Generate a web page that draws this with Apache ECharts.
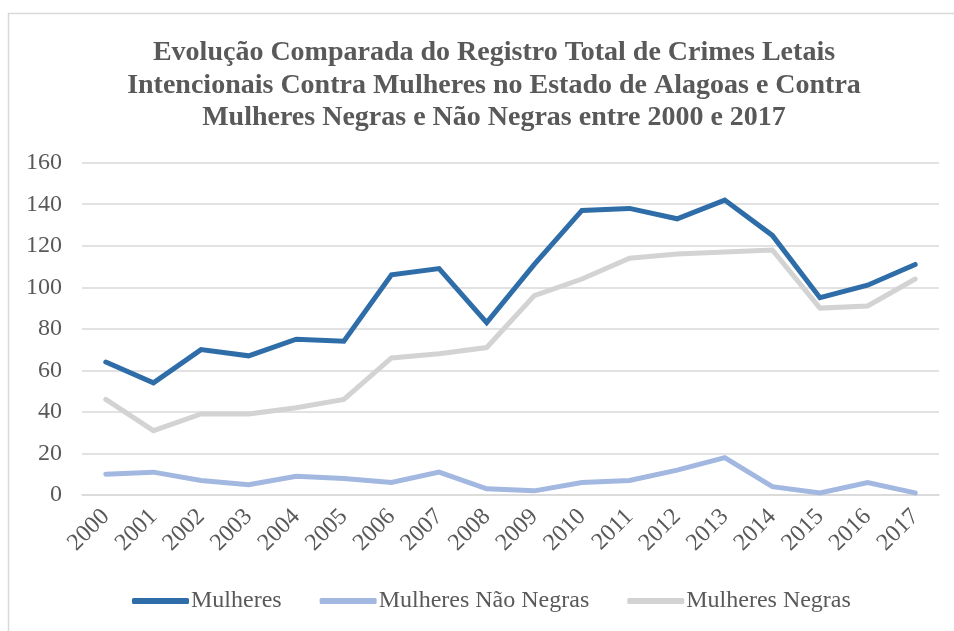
<!DOCTYPE html>
<html>
<head>
<meta charset="utf-8">
<script src="https://cdn.jsdelivr.net/npm/echarts@6/dist/echarts.min.js"></script>
<style>
  html, body { margin: 0; padding: 0; background: #fff; }
  #main { width: 954px; height: 631px; }
</style>
</head>
<body>
<div id="main"></div>
<script>
// anos e valores
var anos = ['2000','2001','2002','2003','2004','2005','2006','2007','2008','2009',
            '2010','2011','2012','2013','2014','2015','2016','2017'];
var mulheres = [64, 54, 70, 67, 75, 74, 106, 109, 83, 111, 137, 138, 133, 142, 125, 95, 101, 111];
var naoNegras = [10, 11, 7, 5, 9, 8, 6, 11, 3, 2, 6, 7, 12, 18, 4, 1, 6, 1];
var negras = [46, 31, 39, 39, 42, 46, 66, 68, 71, 96, 104, 114, 116, 117, 118, 90, 91, 104];

var fonte = '"Liberation Serif", "Times New Roman", serif';
var cinza = '#595959';

var myChart = echarts.init(document.getElementById('main'));
var option = {
  backgroundColor: '#fff',
  title: {
    text: 'Evolução Comparada do Registro Total de Crimes Letais\nIntencionais Contra Mulheres no Estado de Alagoas e Contra\nMulheres Negras e Não Negras entre 2000 e 2017',
    left: 489,
    top: 32,
    textAlign: 'center',
    textStyle: {
      fontFamily: fonte,
      fontWeight: 'bold',
      fontSize: 28,
      lineHeight: 32.5,
      color: cinza
    }
  },
  graphic: [{
    type: 'rect',
    shape: { x: 8.5, y: 13.5, width: 960, height: 640 },
    style: { fill: null, stroke: '#d9d9d9', lineWidth: 1.5 },
    silent: true
  }],
  legend: {
    bottom: 13,
    left: 127,
    itemWidth: 57,
    itemHeight: 6,
    itemGap: 38,
    icon: 'roundRect',
    textStyle: { fontFamily: fonte, fontSize: 24, color: cinza, padding: [0, 0, 0, -3] },
    data: ['Mulheres', 'Mulheres Não Negras', 'Mulheres Negras']
  },
  grid: {
    left: 82,
    right: 15,
    top: 162.7,
    bottom: 136
  },
  xAxis: {
    type: 'category',
    data: anos,
    boundaryGap: true,
    axisLine: { show: true, lineStyle: { color: '#d9d9d9', width: 1.5 } },
    axisTick: { show: false },
    axisLabel: {
      interval: 0,
      rotate: 45,
      margin: 18,
      fontFamily: fonte,
      fontSize: 24,
      color: cinza
    }
  },
  yAxis: {
    type: 'value',
    min: 0,
    max: 160,
    interval: 20,
    axisLine: { show: false },
    axisTick: { show: false },
    axisLabel: {
      margin: 20,
      fontFamily: fonte,
      fontSize: 24,
      color: cinza
    },
    splitLine: { lineStyle: { color: '#d9d9d9', width: 1.5 } }
  },
  series: [
    {
      name: 'Mulheres',
      type: 'line',
      data: mulheres,
      showSymbol: false,
      symbol: 'none',
      z: 4,
      itemStyle: { color: '#2E6DA8' },
      lineStyle: { color: '#2E6DA8', width: 5, cap: 'round', join: 'miter' }
    },
    {
      name: 'Mulheres Não Negras',
      type: 'line',
      data: naoNegras,
      showSymbol: false,
      symbol: 'none',
      z: 3,
      itemStyle: { color: '#A2B8E1' },
      lineStyle: { color: '#A2B8E1', width: 5, cap: 'round', join: 'miter' }
    },
    {
      name: 'Mulheres Negras',
      type: 'line',
      data: negras,
      showSymbol: false,
      symbol: 'none',
      z: 2,
      itemStyle: { color: '#D3D3D3' },
      lineStyle: { color: '#D3D3D3', width: 5, cap: 'round', join: 'miter' }
    }
  ]
};
myChart.setOption(option);
window.addEventListener('resize', function () {
  myChart.resize();
});
</script>
</body>
</html>
